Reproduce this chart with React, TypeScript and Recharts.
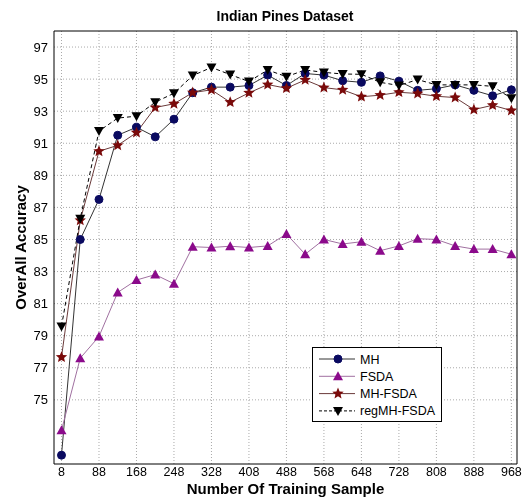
import React from 'react';
import {
  LineChart,
  Line,
  XAxis,
  YAxis,
  CartesianGrid,
  ReferenceArea,
} from 'recharts';

const samples = [
  8, 48, 88, 128, 168, 208, 248, 288, 328, 368, 408, 448, 488, 528, 568, 608,
  648, 688, 728, 768, 808, 848, 888, 928, 968,
];
const mh = [
  71.55, 85.0, 87.5, 91.5, 92.0, 91.4, 92.5, 94.15, 94.5, 94.5, 94.6, 95.25,
  94.6, 95.35, 95.25, 94.9, 94.8, 95.2, 94.87, 94.3, 94.4, 94.64, 94.3, 93.96,
  94.33,
];
const fsda = [
  73.1, 77.6, 78.95, 81.7, 82.47, 82.81, 82.24, 84.55, 84.5, 84.58, 84.5, 84.6,
  85.34, 84.08, 85.0, 84.72, 84.86, 84.3, 84.6, 85.05, 85.0, 84.6, 84.4, 84.4,
  84.08,
];
const mhFsda = [
  77.66, 86.19, 90.5, 90.87, 91.66, 93.23, 93.46, 94.16, 94.33, 93.56, 94.14,
  94.66, 94.43, 94.95, 94.47, 94.33, 93.9, 94.0, 94.18, 94.1, 93.93, 93.85,
  93.1, 93.37, 93.04,
];
const regMhFsda = [
  79.58, 86.3, 91.76, 92.57, 92.69, 93.56, 94.12, 95.22, 95.73, 95.28, 94.85,
  95.57, 95.15, 95.57, 95.42, 95.32, 95.3, 94.8, 94.6, 94.97, 94.64, 94.64,
  94.64, 94.55, 93.8,
];
const xTicks = [8, 88, 168, 248, 328, 408, 488, 568, 648, 728, 808, 888, 968];
const yTicks = [75, 77, 79, 81, 83, 85, 87, 89, 91, 93, 95, 97];

const data = samples.map((s, i) => ({
  s,
  mh: mh[i],
  fsda: fsda[i],
  mhFsda: mhFsda[i],
  reg: regMhFsda[i],
}));

const font = 'Arial, "Liberation Sans", Helvetica, sans-serif';

const starPath = (cx: number, cy: number, r: number) => {
  const pts: string[] = [];
  for (let k = 0; k < 10; k++) {
    const rad = k % 2 === 0 ? r : r * 0.45;
    const a = -Math.PI / 2 + (k * Math.PI) / 5;
    pts.push(`${cx + rad * Math.cos(a)},${cy + rad * Math.sin(a)}`);
  }
  return `M${pts.join('L')}Z`;
};

const Circle = (p: any) => (
  <circle key={p.key} cx={p.cx} cy={p.cy} r={4} fill="#0a0a60" stroke="#0a0a60" />
);
const TriUp = (p: any) => (
  <path
    key={p.key}
    d={`M${p.cx},${p.cy - 5}L${p.cx + 5},${p.cy + 4}L${p.cx - 5},${p.cy + 4}Z`}
    fill="#8b0a8b"
  />
);
const Star = (p: any) => (
  <path key={p.key} d={starPath(p.cx, p.cy, 6)} fill="#7a0a0a" />
);
const TriDown = (p: any) => (
  <path
    key={p.key}
    d={`M${p.cx - 5},${p.cy - 4}L${p.cx + 5},${p.cy - 4}L${p.cx},${p.cy + 5}Z`}
    fill="#000"
  />
);

const legendItems = [
  { name: 'MH', color: '#333', dash: undefined, Mark: Circle },
  { name: 'FSDA', color: '#a070a0', dash: undefined, Mark: TriUp },
  { name: 'MH-FSDA', color: '#6a3a3a', dash: undefined, Mark: Star },
  { name: 'regMH-FSDA', color: '#000', dash: '3 2', Mark: TriDown },
];

const LegendBox = () => (
  <svg width={130} height={75} style={{ display: 'block' }}>
    <rect x={0.5} y={0.5} width={129} height={74} fill="#fff" stroke="#000" />
    {legendItems.map((it, i) => {
      const y = 12 + i * 17.3;
      return (
        <g key={it.name}>
          <line x1={7} x2={43} y1={y} y2={y} stroke={it.color} strokeDasharray={it.dash} />
          <it.Mark cx={26} cy={y} key={it.name} />
          <text x={48} y={y + 4.5} fontSize={12.5} fontFamily={font} fill="#000">
            {it.name}
          </text>
        </g>
      );
    })}
  </svg>
);

export default function App() {
  return (
    <div style={{ position: 'fixed', left: 0, top: 0, width: 527, height: 502, background: '#fff' }}>
      <div
        style={{
          position: 'absolute',
          left: 0,
          width: 570,
          top: 8,
          textAlign: 'center',
          fontFamily: font,
          fontWeight: 'bold',
          fontSize: 14,
        }}
      >
        Indian Pines Dataset
      </div>
      <LineChart
        width={527}
        height={502}
        data={data}
        margin={{ top: 31, right: 10, bottom: 0, left: 14 }}
      >
        <CartesianGrid
          stroke="#aaa"
          strokeDasharray="1 2"
          horizontalValues={yTicks}
          verticalValues={xTicks}
        />
        <XAxis
          dataKey="s"
          type="number"
          domain={[-8, 980]}
          ticks={xTicks}
          interval={0}
          tickLine={false}
          axisLine={false}
          tickSize={1}
          height={38}
          tick={{ fontSize: 12.5, fontFamily: font, fill: '#000' }}
          label={{
            value: 'Number Of Training Sample',
            position: 'insideBottom',
            offset: 8,
            style: { fontSize: 15, fontWeight: 'bold', fontFamily: font, fill: '#000' },
          }}
        />
        <YAxis
          type="number"
          domain={[71, 98]}
          ticks={yTicks}
          interval={0}
          tickLine={false}
          axisLine={false}
          tickSize={4}
          width={40}
          tick={{ fontSize: 13, fontFamily: font, fill: '#000' }}
          label={{
            value: 'OverAll Accuracy',
            angle: -90,
            position: 'insideLeft',
            offset: 7,
            style: { fontSize: 15, fontWeight: 'bold', fontFamily: font, fill: '#000', textAnchor: 'middle' },
          }}
        />
        <ReferenceArea x1={-8} x2={980} y1={71} y2={98} fill="none" stroke="#000" ifOverflow="visible" />
        <Line dataKey="mh" stroke="#333" strokeWidth={1} dot={Circle} isAnimationActive={false} />
        <Line dataKey="fsda" stroke="#a070a0" strokeWidth={1} dot={TriUp} isAnimationActive={false} />
        <Line dataKey="mhFsda" stroke="#6a3a3a" strokeWidth={1} dot={Star} isAnimationActive={false} />
        <Line
          dataKey="reg"
          stroke="#000"
          strokeWidth={1}
          strokeDasharray="4 3"
          dot={TriDown}
          isAnimationActive={false}
        />
      </LineChart>
      <div style={{ position: 'absolute', left: 312, top: 347 }}>
        <LegendBox />
      </div>
    </div>
  );
}
